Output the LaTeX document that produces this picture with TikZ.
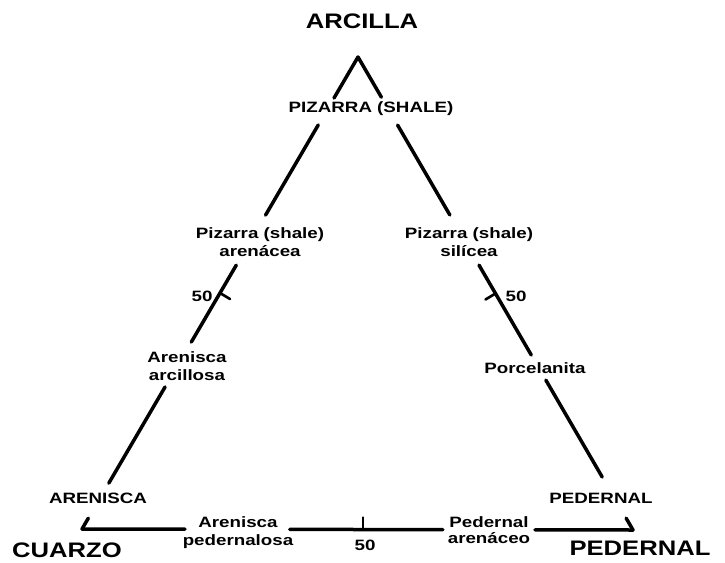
\documentclass[tikz,border=0pt]{standalone}
\usepackage{fontspec}
\setmainfont{Liberation Sans}
\newfontfamily\lblfont{Liberation Sans}[FakeStretch=1.25]
\newfontfamily\bigfont{Liberation Sans}[FakeStretch=1.22]
\usetikzlibrary{calc}
\tikzset{
  side/.style={line width=3.5pt, line cap=round},
  tick/.style={line width=2.6pt, line cap=round},
  lbl/.style={inner sep=0pt, font=\lblfont\bfseries\fontsize{15}{18}\selectfont, align=center},
  big/.style={inner sep=0pt, font=\bigfont\bfseries\fontsize{21}{24}\selectfont},
}
\begin{document}
\begin{tikzpicture}[x=1pt, y=-1pt]
\useasboundingbox (0,0) rectangle (725,562);
\fill[white] (0,0) rectangle (725,562);
% corners
\coordinate (A) at (358,57);
\coordinate (B) at (82,529);
\coordinate (C) at (633,530);
% left side
\draw[side] (A) -- ($(A)!0.087!(B)$);
\draw[side] ($(A)!0.144!(B)$) -- ($(A)!0.335!(B)$);
\draw[side] ($(A)!0.441!(B)$) -- ($(A)!0.604!(B)$);
\draw[side] ($(A)!0.699!(B)$) -- ($(A)!0.903!(B)$);
\draw[side] ($(A)!0.977!(B)$) -- (B);
% right side
\draw[side] (A) -- ($(A)!0.085!(C)$);
\draw[side] ($(A)!0.144!(C)$) -- ($(A)!0.334!(C)$);
\draw[side] ($(A)!0.44!(C)$) -- ($(A)!0.63!(C)$);
\draw[side] ($(A)!0.683!(C)$) -- ($(A)!0.888!(C)$);
\draw[side] ($(A)!0.975!(C)$) -- (C);
% base
\draw[side] (B) -- ($(B)!0.187!(C)$);
\draw[side] ($(B)!0.377!(C)$) -- ($(B)!0.655!(C)$);
\draw[side] ($(B)!0.822!(C)$) -- (C);
% 50 ticks
\coordinate (mL) at ($(A)!0.5!(B)$);
\coordinate (mR) at ($(A)!0.5!(C)$);
\coordinate (mB) at ($(B)!0.51!(C)$);
\draw[tick] (mL) -- ++(10,6);
\draw[tick] (mR) -- ++(-10,6);
\draw[tick] (mB) -- ++(0,-12);
% corner labels
\node[big, anchor=base] (arcilla) at (362,28.5) {ARCILLA};
\node[big, anchor=base] (cuarzo) at (67,557) {CUARZO};
\node[big, anchor=base] (pedernalC) at (640,555) {PEDERNAL};
% field labels
\node[lbl, anchor=base] (shale) at (371,112) {PIZARRA (SHALE)};
\node[lbl] (pzarenacea) at (260,242.5) {Pizarra (shale)\\arenácea};
\node[lbl] (pzsilicea) at (469,242) {Pizarra (shale)\\silícea};
\node[lbl] (arcillosa) at (187,366.5) {Arenisca\\arcillosa};
\node[lbl, anchor=base] (porcelanita) at (535,373) {Porcelanita};
\node[lbl, anchor=base] (arenisca) at (98,503) {ARENISCA};
\node[lbl, anchor=base] (pedernal) at (601,503) {PEDERNAL};
\node[lbl] (pedernalosa) at (238,533) {Arenisca\\pedernalosa};
\node[lbl, font=\lblfont\bfseries\fontsize{15}{16}\selectfont] (arenaceo) at (489,530) {Pedernal\\arenáceo};
% scale numbers
\node[lbl] (n50L) at (202,296) {50};
\node[lbl] (n50R) at (516,296) {50};
\node[lbl] (n50B) at (365,545) {50};
\end{tikzpicture}
\end{document}
